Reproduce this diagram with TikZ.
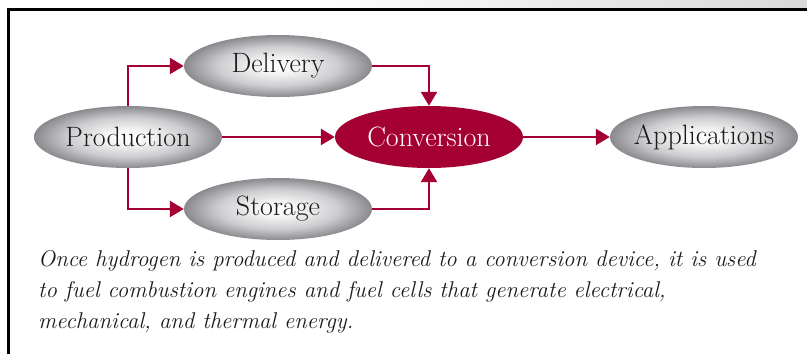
\documentclass[tikz,border=0pt]{standalone}
\usepackage{tikz}
\usetikzlibrary{shapes.geometric,arrows.meta}

\definecolor{crimson}{RGB}{165,0,52}
\definecolor{shadegray}{RGB}{138,138,142}
\definecolor{midgray}{RGB}{205,205,208}
\definecolor{inkblack}{RGB}{30,26,27}

\pgfdeclareradialshading{ovalshade}{\pgfpoint{0bp}{0bp}}{%
  color(0bp)=(white); color(6bp)=(white!96!black); color(16bp)=(midgray);
  color(25bp)=(shadegray); color(50bp)=(shadegray)}

\tikzset{
  oval/.style={ellipse, minimum width=188pt, minimum height=62pt, inner ysep=0pt,
    inner xsep=-22pt, font=\fontsize{28}{32}\selectfont},
  stage/.style={oval, shading=ovalshade, text=inkblack},
  hub/.style={oval, fill=crimson, text=white},
  flow/.style={draw=crimson, line width=2.5pt, -{Triangle[length=14pt,width=16pt]}}
}

\begin{document}
\begin{tikzpicture}[x=1pt, y=-1pt]
      \useasboundingbox (0,0) rectangle (807,354);
      % frame
      \shade[left color=white, right color=black!15] (300,0) rectangle (807,8);
      \draw[line width=3pt] (8.5,354) -- (8.5,9.5) -- (807,9.5);

      \node[stage] (prod) at (128,137) {Production};
      \node[stage] (deliv) at (278,66) {Delivery};
      \node[stage] (stor) at (278,209) {Storage};
      \node[hub] (conv) at (429,137) {Conversion};
      \node[stage] (appl) at (704,137) {Applications};

      \draw[flow] (prod.north) |- (deliv.west);
      \draw[flow] (prod.south) |- (stor.west);
      \draw[flow] (prod.east) -- (conv.west);
      \draw[flow] (deliv.east) -| (conv.north);
      \draw[flow] (stor.east) -| (conv.south);
      \draw[flow] (conv.east) -- (appl.west);

      % caption, anchored at the baseline of its last line
      \node[anchor=base west, align=left, inner sep=0pt, text=inkblack,
        font=\itshape\fontsize{22.8}{31}\selectfont] (caption) at (38,328)
        {Once hydrogen is produced and delivered to a conversion device, it is used\\
         to fuel combustion engines and fuel cells that generate electrical,\\
         mechanical, and thermal energy.};
    \end{tikzpicture}
\end{document}
